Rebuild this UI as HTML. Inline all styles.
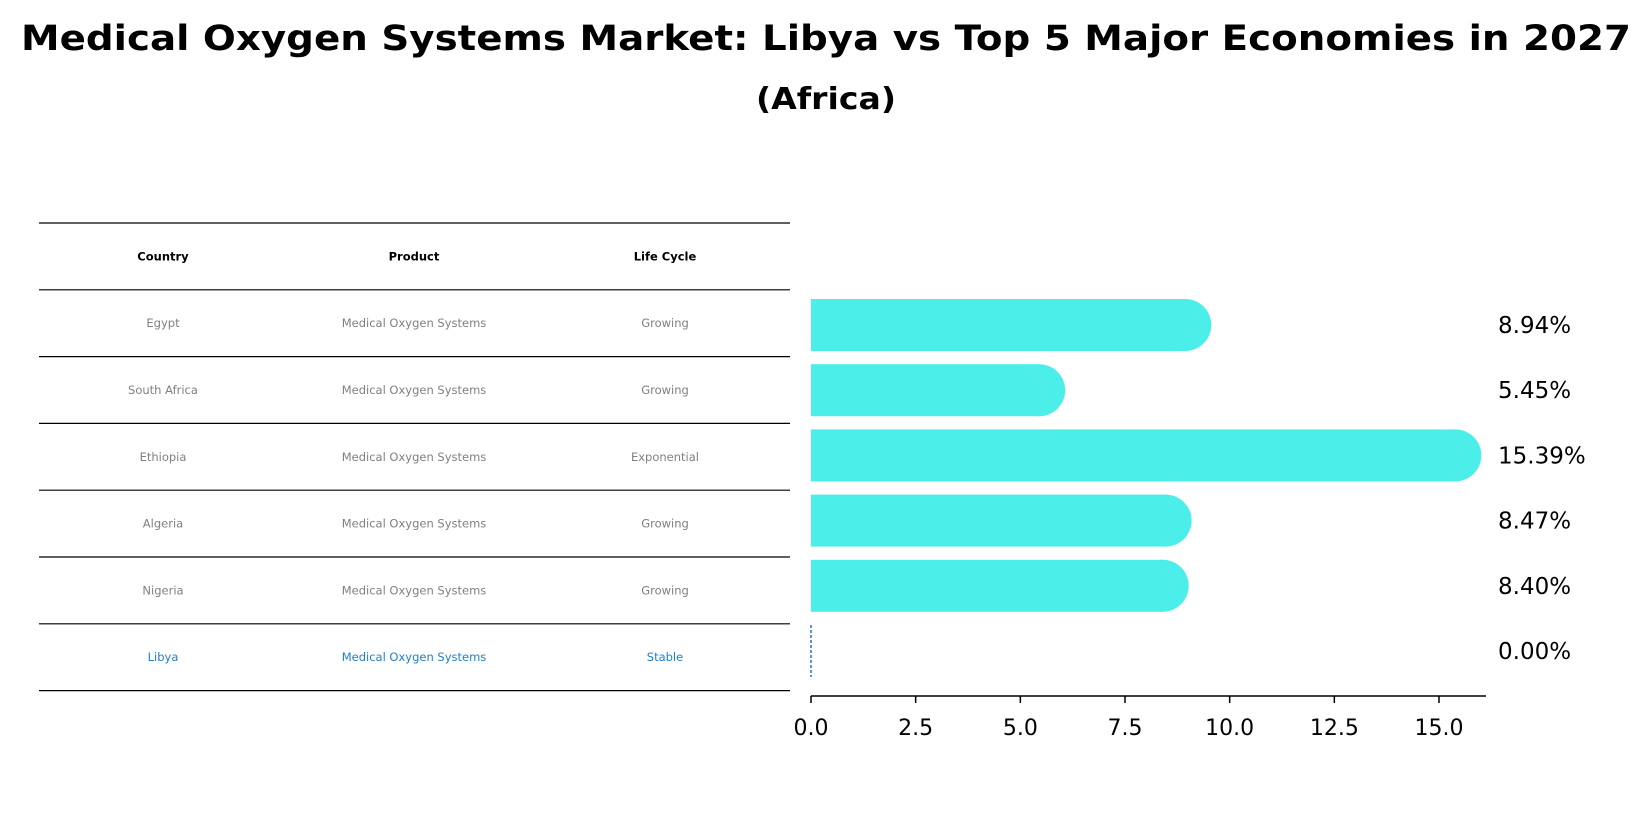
<!DOCTYPE html>
<html><head><meta charset="utf-8"><style>
html,body{margin:0;padding:0;background:#fff;}
svg{display:block;font-family:"DejaVu Sans","Liberation Sans",sans-serif;}
</style></head><body>
<svg id="chart" width="1652" height="823" viewBox="0 0 1652 823" xmlns="http://www.w3.org/2000/svg">
<text x="826" y="50" text-anchor="middle" font-size="35" font-weight="bold" textLength="1610" lengthAdjust="spacingAndGlyphs">Medical Oxygen Systems Market: Libya vs Top 5 Major Economies in 2027</text>
<text x="826" y="109" text-anchor="middle" font-size="30" font-weight="bold" textLength="140" lengthAdjust="spacingAndGlyphs">(Africa)</text>
<g id="table"></g>
<g id="bars"></g>
</svg>
<script>
const countries = ["Egypt","South Africa","Ethiopia","Algeria","Nigeria","Libya"];
const products = ["Medical Oxygen Systems","Medical Oxygen Systems","Medical Oxygen Systems","Medical Oxygen Systems","Medical Oxygen Systems","Medical Oxygen Systems"];
const lifeCycles = ["Growing","Growing","Exponential","Growing","Growing","Stable"];
const values = [8.94,5.45,15.39,8.47,8.40,0.00];
const valueLabels = ["8.94%","5.45%","15.39%","8.47%","8.40%","0.00%"];
const ticks = [0,2.5,5,7.5,10,12.5,15];
const tickLabels = ["0.0","2.5","5.0","7.5","10.0","12.5","15.0"];

const NS="http://www.w3.org/2000/svg";
function mk(tag,attrs,parent){const e=document.createElementNS(NS,tag);for(const k in attrs)e.setAttribute(k,attrs[k]);parent.appendChild(e);return e;}
const x0=811, pxPerUnit=(1439-811)/15;
function xs(v){return x0+v*pxPerUnit;}
const rowH=66.8, tableTop=223;
function rowY(i){return 325+i*65.2;}

const table=document.getElementById('table');
for(let i=0;i<=7;i++){
  const y=tableTop+i*rowH;
  const l=mk('line',{x1:39,x2:790,y1:y,y2:y,stroke:'#000','stroke-width':1.2},table);
  
  
}
const colX=[163,414,665];
const headers=["Country","Product","Life Cycle"];
headers.forEach((h,j)=>{
  const t=mk('text',{x:colX[j],y:tableTop+rowH/2+4,'text-anchor':'middle','font-size':11.5,'font-weight':'bold',fill:'#000'},table);
  t.textContent=h;
  
  
});
countries.forEach((c,i)=>{
  const y=tableTop+(i+1.5)*rowH+4;
  const col=c==="Libya"?'#1f7fcf':'#808080';
  const cells=[c,products[i],lifeCycles[i]];
  cells.forEach((txt,j)=>{
    const t=mk('text',{x:colX[j],y:y,'text-anchor':'middle','font-size':11.5,fill:col},table);
    t.textContent=txt;
    
    
  });
});

const bars=document.getElementById('bars');
const bh=52;
values.forEach((v,i)=>{
  const cy=rowY(i);
  if(v>0){
    const g=mk('g',{},bars);
    
    
    mk('rect',{x:x0,y:cy-bh/2,width:xs(v)-x0,height:bh,fill:'#4beee9'},g);
    mk('circle',{cx:xs(v),cy:cy,r:bh/2,fill:'#4beee9'},g);
  } else {
    const l=mk('line',{x1:xs(v),x2:xs(v),y1:cy-26,y2:cy+26,stroke:'#1f77b4','stroke-width':1.5,'stroke-dasharray':'3,2'},bars);
    
    
  }
  const t=mk('text',{x:1498,y:cy+8,'font-size':23,fill:'#000'},bars);
  t.textContent=valueLabels[i];
  
  
});
const ax=mk('line',{x1:x0,x2:1486,y1:696,y2:696,stroke:'#000','stroke-width':1.5},bars);


ticks.forEach((tv,i)=>{
  const tk=mk('line',{x1:xs(tv),x2:xs(tv),y1:696,y2:703,stroke:'#000','stroke-width':1.5},bars);
  
  
  const t=mk('text',{x:xs(tv),y:735,'text-anchor':'middle','font-size':22,fill:'#000'},bars);
  t.textContent=tickLabels[i];
  
  
});
</script>
</body></html>
